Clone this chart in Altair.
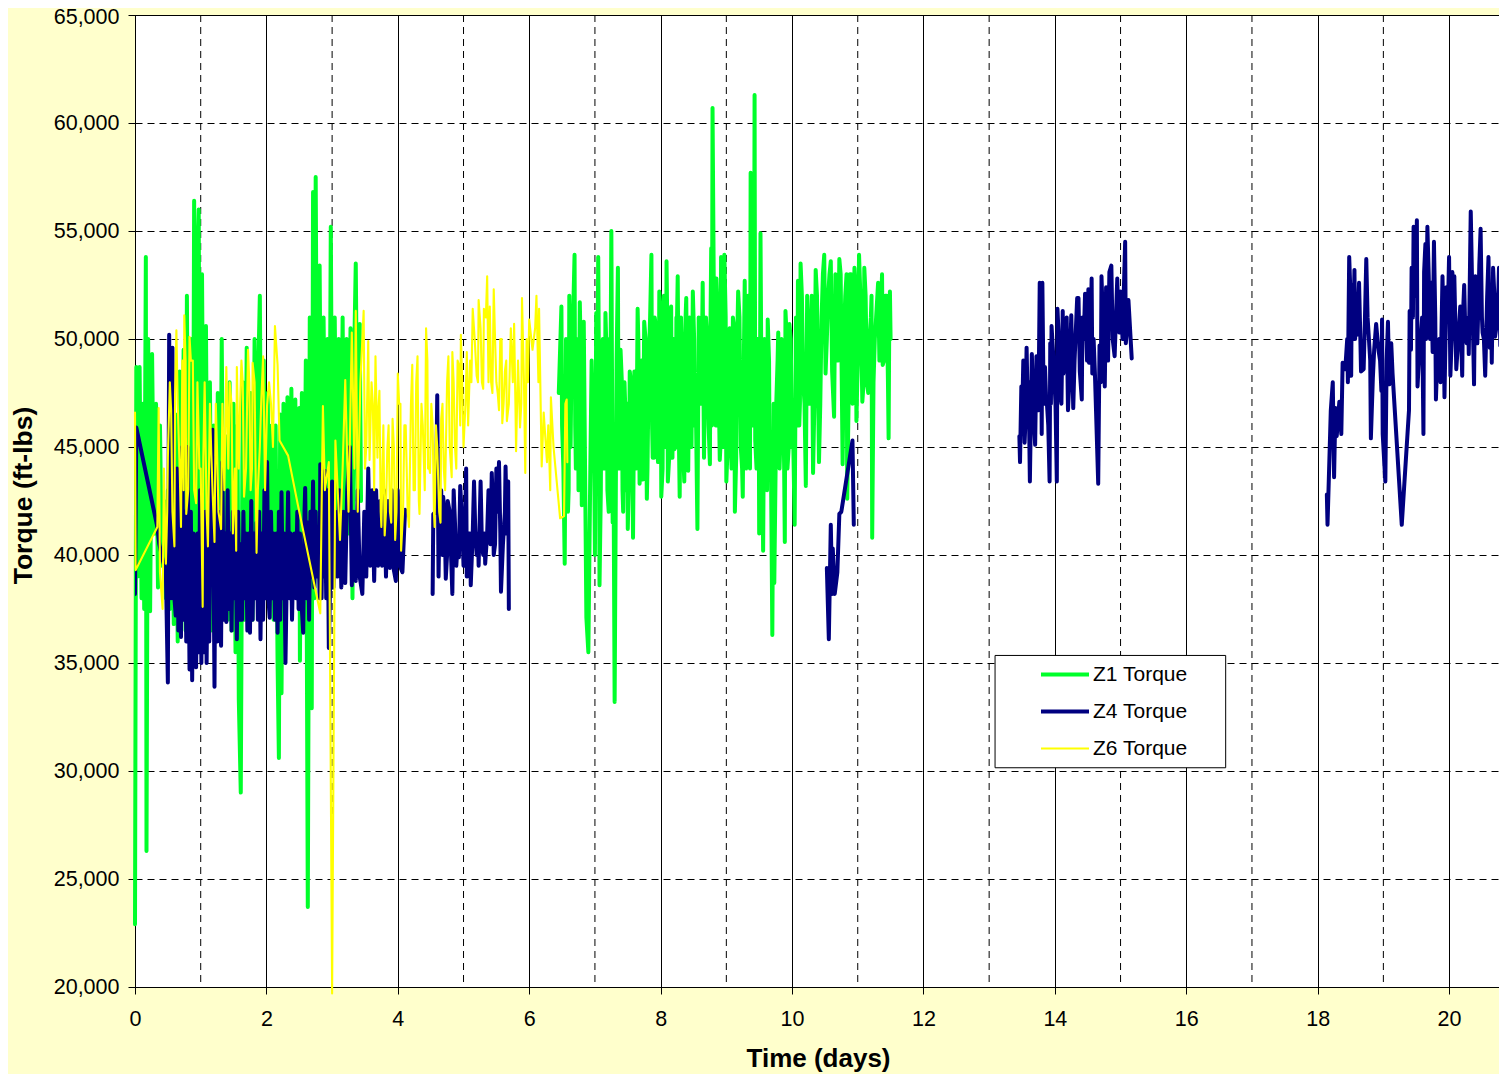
import altair as alt
import pandas as pd

Z1 = "Z1 Torque"
Z4 = "Z4 Torque"
Z6 = "Z6 Torque"

even_days = [0, 2, 4, 6, 8, 10, 12, 14, 16, 18, 20]
odd_days = [1, 3, 5, 7, 9, 11, 13, 15, 17, 19]
torque_ticks = [20000, 25000, 30000, 35000, 40000, 45000, 50000, 55000, 60000, 65000]

z1a_days = [
    0, .02, .04, .07, .1, .12, .14, .165, .175, .2,
    .23, .26, .29, .32, .35, .38, .41, .44, .47, .5,
    .53, .56, .59, .62, .65, .68, .71, .74, .77, .79,
    .82, .85, .88, .9, .92, .95, .97, .99, 1.02, 1.05,
    1.08, 1.11, 1.14, 1.17, 1.2, 1.23, 1.26, 1.29, 1.32, 1.35,
    1.38, 1.41, 1.44, 1.47, 1.5, 1.53, 1.56, 1.58, 1.61, 1.64,
    1.67, 1.7, 1.73, 1.76, 1.79, 1.82, 1.85, 1.88, 1.9, 1.93,
    1.96, 1.99, 2.02, 2.05, 2.08, 2.11, 2.14, 2.17, 2.19, 2.21,
    2.23, 2.26, 2.29, 2.32, 2.35, 2.38, 2.41, 2.44, 2.47, 2.5,
    2.51, 2.54, 2.57, 2.6, 2.63, 2.66, 2.69, 2.71, 2.73, 2.75,
    2.78, 2.81, 2.84, 2.87, 2.9, 2.93, 2.96, 2.98, 3.01, 3.04,
    3.07, 3.1, 3.13, 3.16, 3.19, 3.22, 3.25, 3.28, 3.31, 3.34,
    3.36, 3.39, 3.42, 3.44,
]
z1a_torque = [
    22.9, 48.7, 39, 48.7, 38, 47, 37.5, 53.8, 26.3, 50,
    37.4, 49.3, 41, 47, 38.5, 46, 39.5, 42.5, 38, 43,
    37.5, 44, 36.8, 46.5, 36, 48.5, 37.5, 49.5, 36.5, 52,
    36, 50, 38, 56.4, 38, 54, 56, 38, 53, 39,
    50.6, 37, 48, 36.5, 46, 37.5, 47.5, 37, 50, 38,
    45.5, 37, 48, 36.5, 47, 35.5, 46, 33.3, 29, 48,
    37, 49.6, 38, 47.5, 37, 50, 38, 49, 52, 38,
    49, 39, 47.5, 38, 46, 37, 46, 35, 30.6, 46.5,
    33.6, 47, 37, 47.3, 39, 47.7, 39, 47.2, 38, 46.8,
    35.1, 47.5, 38, 49, 23.7, 51, 32.9, 56.8, 38, 57.5,
    40, 53.4, 40, 51, 42, 50, 43, 55.2, 38.5, 51,
    42, 50, 41, 51, 39, 50, 41, 50.5, 38, 50,
    53.5, 42.5, 50.7, 42.5,
]

z1b_days = [
    6.45, 6.49, 6.52, 6.54, 6.57, 6.59, 6.61, 6.63, 6.66, 6.69,
    6.71, 6.74, 6.77, 6.8, 6.83, 6.85, 6.87, 6.9, 6.93, 6.97,
    7.0, 7.02, 7.05, 7.07, 7.1, 7.13, 7.16, 7.19, 7.22, 7.25,
    7.27, 7.3, 7.33, 7.35, 7.38, 7.41, 7.43, 7.46, 7.48, 7.5,
    7.53, 7.56, 7.58, 7.61, 7.65, 7.68, 7.71, 7.75, 7.79, 7.82,
    7.86, 7.88, 7.91, 7.94, 7.96, 7.98, 8.01, 8.04, 8.06, 8.09,
    8.11, 8.14, 8.17, 8.19, 8.21, 8.24, 8.26, 8.29, 8.32, 8.36,
    8.39, 8.42, 8.45, 8.49, 8.52, 8.56, 8.59, 8.64, 8.67, 8.71,
    8.75, 8.77, 8.79, 8.82, 8.85, 8.9, 8.92, 8.95, 8.97, 9.0,
    9.03, 9.06, 9.1, 9.13, 9.16, 9.18, 9.22, 9.25, 9.28, 9.31,
    9.34, 9.37, 9.4, 9.43, 9.44, 9.47, 9.5, 9.52, 9.54, 9.56,
    9.6, 9.63, 9.66, 9.7, 9.73, 9.76, 9.79, 9.82, 9.86, 9.89,
    9.9, 9.93, 9.96, 10.0, 10.04, 10.07, 10.09, 10.11, 10.13, 10.17,
    10.21, 10.24, 10.28, 10.32, 10.36, 10.41, 10.45, 10.49, 10.51, 10.55,
    10.59, 10.64, 10.68, 10.72, 10.77, 10.81, 10.84, 10.88, 10.92, 10.95,
    10.98, 11.02, 11.07, 11.1, 11.14, 11.18, 11.21, 11.22, 11.26, 11.31,
    11.34, 11.37, 11.38, 11.42, 11.45, 11.47, 11.49, 11.5,
]
z1b_torque = [
    47.5, 51.5, 44, 39.6, 48, 42, 52, 45, 50, 53.9,
    44, 50, 51.7, 42.3, 50.8, 44, 37.1, 35.5, 44, 46,
    40, 51.2, 53.8, 38.6, 49, 44, 51.2, 43, 50, 55,
    41.5, 33.2, 49, 53.3, 44, 48, 42, 47, 44, 41.2,
    48.5, 45, 40.8, 47, 51.4, 43.3, 49, 50.8, 42.6, 49,
    53.9, 44.5, 51, 46, 44.3, 52.2, 42.7, 50, 47, 53.6,
    43.4, 51, 46, 50, 44.9, 51, 52.9, 42.7, 50, 43.4,
    51.9, 43.9, 50, 52.2, 46, 41.2, 50, 52.6, 47, 50,
    44.2, 54.2, 60.7, 48, 52.8, 44.4, 53.8, 47, 53.9, 43.4,
    50, 46, 51, 42, 49, 52.2, 45, 42.7, 52.7, 46,
    51, 57.7, 46, 61.3, 45.3, 50, 41, 54.9, 47, 40.2,
    48, 50.9, 44, 36.3, 38.7, 47, 50.3, 45, 49, 40.6,
    51.3, 44, 50.7, 45, 41.4, 49, 52.7, 46, 53.5, 48,
    43.2, 51, 47, 43.8, 53.2, 44.3, 51, 53.9, 48.4, 52,
    53.6, 46.4, 52, 53.7, 44.2, 52, 42.6, 53, 47, 53.3,
    46.2, 53.9, 47.1, 53.3, 48, 50, 52, 40.8, 50, 52.6,
    49, 53, 48.8, 52, 50, 45.4, 52.2, 50,
]
z1b_band_days = [
    6.5, 6.56, 6.6, 6.65, 6.7, 6.75, 6.78, 6.82, 6.95, 6.99,
    7.03, 7.06, 7.09, 7.12, 7.15, 7.18, 7.21, 7.24, 7.28, 7.32,
    7.36, 7.39, 7.42, 7.45, 7.47, 7.49, 7.52, 7.55, 7.57, 7.6,
    7.63, 7.66, 7.7, 7.73, 7.77, 7.8, 7.84, 7.87, 7.9, 7.93,
    7.97, 8.0, 8.03, 8.05, 8.08, 8.1, 8.13, 8.16, 8.18, 8.2,
    8.23, 8.25, 8.28, 8.31, 8.34, 8.38, 8.41, 8.44, 8.47, 8.51,
    8.54, 8.58, 8.62, 8.66, 8.69, 8.73, 8.76, 8.78, 8.81, 8.84,
    8.87, 8.91, 8.94, 8.96, 8.99, 9.02, 9.05, 9.08, 9.12, 9.15,
    9.2, 9.24, 9.27, 9.3, 9.33, 9.36, 9.39, 9.42, 9.46, 9.49,
    9.51, 9.53, 9.55, 9.58, 9.62, 9.65, 9.68, 9.72, 9.75, 9.78,
    9.81, 9.84, 9.88, 9.92, 9.95, 9.98, 10.02, 10.06, 10.08, 10.1,
    10.12, 10.15, 10.19, 10.23, 10.26, 10.3, 10.34, 10.38, 10.43, 10.47,
    10.53, 10.57, 10.61, 10.66, 10.7, 10.74, 10.79, 10.83, 10.86, 10.9,
    10.94, 10.97, 11.0, 11.04, 11.09, 11.12, 11.16, 11.2, 11.24, 11.28,
    11.33, 11.36, 11.4, 11.44, 11.46, 11.48,
]
z1b_band_torque = [
    46, 50, 43, 51, 46, 43, 50, 45, 49, 44,
    44, 49, 43, 50, 44, 49, 42, 50, 46, 44,
    44, 49.5, 43, 48, 43, 47, 44, 48, 44, 48.5,
    44, 50, 45, 43.5, 50, 44, 51, 46, 44.5, 50.5,
    46, 51, 44, 52, 45, 51, 44.5, 51.5, 44.5, 50,
    45, 51, 45, 51, 45, 51, 45, 51, 45, 50,
    46, 51, 47, 44.5, 51, 46, 51, 46, 52, 46,
    51, 45, 52, 45, 51, 45, 50.5, 44, 50.5, 44.5,
    51, 44, 50, 44, 52, 44, 52, 47, 44, 50,
    45, 50, 44, 50, 43, 49, 44, 47, 44, 49,
    44, 50, 44, 50, 45, 50, 45, 51, 46, 51,
    47, 52, 47, 52, 47, 52, 47, 52, 47, 53,
    50, 53, 48.5, 53, 49, 53, 50, 53, 47, 53,
    49, 52, 49, 52, 48, 52, 47.5, 51, 48, 51,
    49, 52, 49, 52, 48, 51,
]

z4a_days = [
    0, .02, .34, .37, .42, .47, .5, .52, .55, .57,
    .6, .62, .64, .66, .68, .7, .72, .74, .76, .78,
    .8, .83, .85, .87, .89, .91, .93, .95, .97, .99,
    1.01, 1.03, 1.05, 1.07, 1.09, 1.11, 1.13, 1.15, 1.18, 1.21,
    1.23, 1.25, 1.27, 1.29, 1.31, 1.33, 1.35, 1.37, 1.39, 1.41,
    1.43, 1.45, 1.47, 1.49, 1.51, 1.53, 1.55, 1.57, 1.59, 1.61,
    1.63, 1.65, 1.67, 1.69, 1.71, 1.73, 1.75, 1.77, 1.79, 1.81,
    1.83, 1.85, 1.87, 1.89, 1.91, 1.93, 1.95, 1.97, 1.99, 2.01,
    2.03, 2.05, 2.07, 2.09, 2.11, 2.13, 2.15, 2.17, 2.19, 2.21,
    2.23, 2.25, 2.27, 2.29, 2.33, 2.35, 2.37, 2.39, 2.41, 2.42,
    2.43, 2.45, 2.47, 2.49, 2.51, 2.53, 2.56, 2.58, 2.59, 2.61,
    2.63, 2.65, 2.67, 2.69, 2.71, 2.73, 2.75, 2.77, 2.79, 2.81,
    2.82, 2.84, 2.86, 2.88, 2.89, 2.91, 2.93, 2.95, 3, 3.02,
    3.05, 3.08, 3.11, 3.14, 3.17, 3.2, 3.23, 3.27, 3.3, 3.33,
    3.36, 3.39, 3.42, 3.46, 3.49, 3.52, 3.55, 3.58, 3.61, 3.64,
    3.67, 3.7, 3.73, 3.76, 3.79, 3.82, 3.85, 3.88, 3.91, 3.94,
    3.97, 4, 4.03, 4.07, 4.11,
]
z4a_torque = [
    38.2, 45.9, 41.3, 40.5, 39.8, 39.2, 34.1, 50.2, 38, 49.6,
    38, 37.2, 44, 36.5, 43, 36.2, 45, 37, 42, 36,
    45, 34.7, 42, 34.2, 41, 36, 34.8, 41, 35.5, 43,
    35, 41, 35.5, 42, 35, 41, 36, 43, 45.8, 33.9,
    44.5, 36, 42, 37, 35.8, 44.3, 37, 41, 36.9, 43,
    37.5, 41, 36.5, 42, 38, 41, 36.1, 42, 37, 40.5,
    37, 42, 38, 41, 36.5, 41, 36.4, 42.5, 37, 41,
    38, 41.5, 37, 42, 36.1, 41, 37, 43, 38, 44.3,
    38, 37.1, 42, 38, 41, 37, 41, 36.4, 42, 37,
    42.9, 38, 41, 35, 42.9, 38, 41, 37, 40, 38.5,
    41, 38, 42, 37.5, 41, 38, 36.4, 42, 43.1, 38,
    41.5, 37, 42, 39, 43.4, 38.5, 42, 39, 41, 38,
    44.2, 38, 43, 39, 43.9, 38, 43, 35.7, 43.4, 38.5,
    42, 39, 43, 38.5, 42, 38.7, 43, 45, 38.6, 42,
    38.8, 43, 39, 38.2, 42, 39, 44, 39.5, 43, 38.8,
    43, 39.5, 42.5, 39.5, 43, 39, 42.5, 39.4, 43, 39.3,
    38.8, 43, 39.5, 39.2, 42.1,
]

z4b_days = [
    4.53, 4.54, 4.6, 4.62, 4.66, 4.69, 4.73, 4.76, 4.83, 4.85,
    4.89, 4.93, 4.95, 5.0, 5.04, 5.05, 5.08, 5.11, 5.16, 5.2,
    5.23, 5.26, 5.3, 5.33, 5.38, 5.43, 5.46, 5.5, 5.54, 5.57,
    5.61, 5.64, 5.68, 5.69,
]
z4b_torque = [
    38.2, 41.9, 47.4, 39, 43, 42.7, 38.9, 42.5, 38.2, 43,
    39.5, 39.9, 43.2, 39.5, 44, 39, 41, 38.6, 43.4, 40,
    39.5, 43.4, 40, 39.6, 43, 43.8, 40, 44, 44.3, 38.3,
    41, 44.1, 43.4, 37.5,
]
z4b_band_days = [
    4.58, 4.64, 4.68, 4.71, 4.75, 4.79, 4.81, 4.87, 4.91, 4.98,
    5.02, 5.07, 5.1, 5.14, 5.18, 5.22, 5.28, 5.32, 5.36, 5.41,
    5.45, 5.48, 5.52, 5.56, 5.6, 5.63, 5.66,
]
z4b_band_torque = [
    42, 43, 40, 42, 40, 42, 40, 41.5, 40.5, 41.5,
    41, 40.5, 41, 41, 41, 41, 40.5, 41, 41, 40.5,
    42, 40.5, 42, 41, 40.5, 42, 41,
]

z4c_days = [10.53, 10.56, 10.59, 10.61, 10.62, 10.65, 10.69, 10.72, 10.75, 10.92, 10.94]
z4c_torque = [39.4, 36.1, 41.4, 38.2, 40.3, 38.2, 39.2, 41.9, 42, 45.3, 41.4]

z4d_days = [
    13.46, 13.47, 13.49, 13.52, 13.54, 13.57, 13.59, 13.62, 13.65, 13.7,
    13.72, 13.75, 13.77, 13.8, 13.81, 13.85, 13.88, 13.92, 13.93, 13.95,
    14.03, 14.04, 14.08, 14.12, 14.13, 14.18, 14.2, 14.25, 14.28, 14.34,
    14.36, 14.41, 14.42, 14.46, 14.51, 14.52, 14.56, 14.57, 14.61, 14.66,
    14.68, 14.71, 14.76, 14.78, 14.81, 14.83, 14.86, 14.91, 14.95, 14.98,
    15, 15.07, 15.08, 15.12, 15.17,
]
z4d_torque = [
    45.5, 44.3, 47.8, 49, 45.2, 49.6, 46.5, 43.4, 49.3, 45.1,
    49.2, 46.7, 52.6, 45.6, 52.6, 48.7, 47, 43.4, 49.8, 50.6,
    43.4, 51.4, 47.5, 51.3, 48.4, 51, 46.7, 51.1, 46.8, 51.9,
    51.9, 47.2, 51, 52.1, 52.3, 48.9, 52.8, 48.4, 48.4, 43.3,
    49.7, 52.9, 47.8, 52.4, 49, 53.1, 53.4, 49.2, 52.8, 50.3,
    52.2, 54.5, 49.8, 51.8, 49.1,
]
z4d_band_days = [
    13.5, 13.55, 13.6, 13.67, 13.74, 13.79, 13.83, 13.87, 13.9, 13.94,
    13.98, 14.01, 14.06, 14.1, 14.15, 14.22, 14.3, 14.38, 14.44, 14.49,
    14.54, 14.59, 14.7, 14.74, 14.8, 14.88, 14.93, 14.97, 15.03, 15.1,
]
z4d_band_torque = [
    46, 46, 48, 47, 47, 51, 47, 47, 46, 47,
    49, 47, 50, 47, 49.5, 48, 49, 48.5, 50, 49,
    50, 50, 48, 50, 51, 50, 51, 50.5, 50, 50.5,
]

z4e_days = [
    18.14, 18.15, 18.2, 18.23, 18.25, 18.27, 18.29, 18.33, 18.36, 18.38,
    18.42, 18.46, 18.48, 18.51, 18.52, 18.56, 18.57, 18.6, 18.63, 18.66,
    18.7, 18.74, 18.76, 18.78, 18.81, 18.84, 18.89, 18.93, 18.97, 18.98,
    18.99, 19.03, 19.07, 19.09, 19.12, 19.14, 19.28, 19.39, 19.4, 19.42,
    19.43, 19.46, 19.51, 19.52, 19.56, 19.61, 19.62, 19.64, 19.67, 19.7,
    19.73, 19.75, 19.77, 19.8, 19.83, 19.87, 19.9, 19.93, 19.96, 20,
    20.02, 20.05, 20.08, 20.11, 20.17, 20.2, 20.23, 20.27, 20.3, 20.33,
    20.38, 20.4, 20.43, 20.46, 20.48, 20.51, 20.55, 20.6, 20.62, 20.65,
    20.67, 20.7, 20.76, 20.78, 20.82, 20.85, 20.88,
]
z4e_torque = [
    42.8, 41.4, 46.7, 48, 43.6, 46.8, 45.5, 47.1, 45.6, 48.9,
    48.6, 48, 53.8, 48.3, 52.5, 53.2, 50, 50.2, 52.6, 48.5,
    48.6, 53.7, 51, 50, 45.4, 48.2, 50.7, 49.4, 47.6, 50.9,
    45.6, 43.4, 50.8, 47.9, 49.8, 48.4, 41.4, 46.7, 51.3, 49.5,
    53.3, 55.2, 55.5, 47.8, 49.7, 45.6, 53.1, 54.4, 55.2, 51.5,
    52.6, 49.4, 54.5, 47.2, 49.9, 48, 52.9, 47.3, 52.4, 53.8,
    48.3, 53.1, 52.9, 48.6, 51.5, 48.3, 52.5, 49.8, 49.3, 55.9,
    47.9, 52.9, 49.8, 53.4, 55.1, 50.3, 48.3, 53.8, 49.6, 48.9,
    53.3, 50.1, 53.3, 49.7, 53.8, 54.4, 48.1,
]
z4e_band_days = [
    18.45, 18.5, 18.54, 18.59, 18.65, 18.72, 18.8, 18.86, 18.91, 18.95,
    19.05, 19.11, 19.45, 19.49, 19.54, 19.59, 19.65, 19.69, 19.71, 19.79,
    19.85, 19.92, 19.98, 20.04, 20.07, 20.1, 20.14, 20.21, 20.25, 20.29,
    20.36, 20.39, 20.45, 20.5, 20.53, 20.58, 20.64, 20.69, 20.74, 20.8,
]
z4e_band_torque = [
    50, 52, 50, 52, 50, 51, 49, 49.5, 50, 49,
    49, 49, 51, 52, 49, 51, 50, 53, 50, 51,
    50, 50, 51, 50, 52, 50, 50, 51, 50, 51,
    51, 51, 52, 51, 50, 52, 51, 52, 51, 52,
]

z6_days = [
    0, .01, .34, .36, .38, .42, .47, .5, .55, .6,
    .61, .63, .7, .75, .78, .83, .88, .93, .98, 1.03,
    1.04, 1.11, 1.16, 1.21, 1.25, 1.31, 1.39, 1.44, 1.49, 1.54,
    1.55, 1.62, 1.66, 1.72, 1.76, 1.79, 1.85, 1.9, 1.95, 2.01,
    2.07, 2.13, 2.17, 2.2, 2.33, 2.48, 2.82, 2.86, 2.89, 2.95,
    3.0, 3.05, 3.12, 3.16, 3.2, 3.25, 3.3, 3.34, 3.36, 3.39,
    3.43, 3.48, 3.52, 3.55, 3.57, 3.62, 3.66, 3.69, 3.72, 3.75,
    3.8, 3.84, 3.88, 3.92, 3.96, 4.0, 4.02, 4.05, 4.12, 4.17,
    4.22, 4.26, 4.3, 4.33, 4.38, 4.43, 4.46, 4.49, 4.53, 4.56,
    4.6, 4.65, 4.66, 4.72, 4.77, 4.82, 4.83, 4.89, 4.93, 4.96,
    5.0, 5.05, 5.07, 5.14, 5.2, 5.23, 5.3, 5.31, 5.36, 5.44,
    5.46, 5.5, 5.54, 5.56, 5.59, 5.63, 5.66, 5.72, 5.77, 5.8,
    5.86, 5.89, 5.94, 5.96, 6.0, 6.09, 6.11, 6.14, 6.15, 6.19,
    6.22, 6.27, 6.29, 6.32, 6.33, 6.37, 6.47, 6.53, 6.55, 6.57, 6.58,
]
z6_torque = [
    46.6, 39.3, 41.3, 46.8, 39.2, 37.5, 39.6, 44.5, 46.7, 40.4,
    47.5, 50.4, 41.3, 51.1, 41.9, 50.1, 49, 42.4, 44, 37.6,
    44.5, 40.4, 44.8, 40.6, 44.7, 41.2, 48.7, 48, 41, 40.2,
    48.7, 49, 42.7, 49.5, 43, 48.9, 40.1, 45, 49.2, 46.9,
    47, 50.6, 48.8, 45.3, 44.6, 42.3, 37.3, 46.9, 43, 44.3,
    19.7, 45.3, 40.7, 44, 48.1, 42, 50.3, 44, 51.3, 42,
    48, 51.3, 45, 49.9, 44.4, 47, 49.2, 44.5, 47.6, 41.3,
    40.9, 44.9, 42, 46.3, 40.7, 48.4, 47, 40.2, 46, 41.3,
    48.8, 43, 49.2, 41.9, 46, 50.5, 44, 43.8, 46, 41.3,
    45, 41.5, 46.3, 43, 49.2, 43.6, 49.4, 44, 48.8, 50.2,
    45, 49.4, 46, 51.4, 48.3, 51.8, 47.7, 51.4, 52.9, 47.5,
    52.3, 48, 46.7, 50, 46.1, 48.5, 46.2, 50.5, 50.7, 44.8,
    45.9, 51.9, 43.8, 50, 50.9, 50.5, 52, 48, 51.4, 44.1,
    46.6, 44.3, 46, 43, 47.3, 45, 41.7, 41.8, 47, 47.2, 44.3,
]
z6_band_days = [
    .44, .49, .53, .57, .65, .68, .72, .74, .77, .81,
    .85, .9, .95, 1.0, 1.06, 1.09, 1.14, 1.18, 1.23, 1.27,
    1.33, 1.36, 1.42, 1.47, 1.52, 1.58, 1.6, 1.64, 1.69, 1.74,
    1.78, 1.82, 1.87, 1.92, 1.98, 2.04, 2.1,
    3.5, 3.6, 3.64, 3.7, 3.74, 3.78, 3.82, 3.86, 3.9, 3.94,
    3.98, 4.04, 4.08, 4.1, 4.15, 4.2, 4.24, 4.28, 4.32, 4.36,
    4.41, 4.45, 4.48, 4.51, 4.55, 4.58, 4.63, 4.68, 4.7, 4.75,
    4.79, 4.85, 4.87, 4.91, 4.95, 4.98, 5.03, 5.1, 5.12, 5.17,
    5.22, 5.26, 5.28, 5.34, 5.38, 5.4, 5.42, 5.48, 5.52, 5.58,
    5.61, 5.65, 5.69, 5.75, 5.79, 5.83, 5.88, 5.92, 5.98, 6.05,
]
z6_band_torque = [
    44, 42, 48, 42, 47, 44, 49, 43, 49, 43,
    49, 43, 48, 44, 48, 42, 47, 43, 47, 42,
    47, 43, 44, 47, 44, 44, 47, 48, 44, 48,
    44, 48, 43, 47, 43, 48, 45,
    44, 48, 43, 46.5, 42, 46, 42, 46, 41.5, 45,
    42, 47, 42, 46, 42, 47, 43, 48, 42.5, 47,
    43, 49, 44, 47, 42, 46, 42, 47, 44, 48,
    45, 48, 45, 49, 46, 48, 47, 49, 48, 50,
    48, 50.5, 48, 51, 48, 51.5, 48, 50, 47.5, 50,
    47, 49, 47, 48, 47, 49, 47, 48, 48, 49.5,
]

segments = [
    (Z1, "z1a", z1a_days, z1a_torque),
    (Z1, "z1b", z1b_days + z1b_band_days, z1b_torque + z1b_band_torque),
    (Z4, "z4a", z4a_days, z4a_torque),
    (Z4, "z4b", z4b_days + z4b_band_days, z4b_torque + z4b_band_torque),
    (Z4, "z4c", z4c_days, z4c_torque),
    (Z4, "z4d", z4d_days + z4d_band_days, z4d_torque + z4d_band_torque),
    (Z4, "z4e", z4e_days + z4e_band_days, z4e_torque + z4e_band_torque),
    (Z6, "z6", z6_days + z6_band_days, z6_torque + z6_band_torque),
]
rows = []
for series, seg, days, torque in segments:
    for i, (d, v) in enumerate(sorted(zip(days, torque), key=lambda p: p[0])):
        rows.append({"series": series, "seg": seg, "idx": i, "day": d, "torque": v * 1000})
data = pd.DataFrame(rows)

FONT = "Liberation Sans"
x_scale = alt.Scale(domain=[0, 20.76], nice=False, zero=False)
y_scale = alt.Scale(domain=[20000, 65000], nice=False, zero=False)

x_enc = alt.X(
    "day:Q", scale=x_scale,
    axis=alt.Axis(
        title="Time (days)", values=even_days, format="d", grid=True, gridColor="#000000",
        gridWidth=1, gridOpacity=1, tickColor="#000000", tickSize=7, domainColor="#000000",
        labelFont=FONT, labelFontSize=21.5, labelColor="#000000", labelPadding=14,
        labelFlush=False, labelOverlap=False,
        titleFont=FONT, titleFontSize=26, titleFontWeight="bold", titleColor="#000000",
        titleX=683, titleY=79, titleBaseline="alphabetic",
    ),
)
y_enc = alt.Y(
    "torque:Q", scale=y_scale,
    axis=alt.Axis(
        title="Torque (ft-lbs)", values=torque_ticks, format=",d", grid=True, gridColor="#000000",
        gridDash=[7, 5], gridWidth=1, gridOpacity=1, tickColor="#000000", tickSize=7,
        domainColor="#000000", labelFont=FONT, labelFontSize=21.5, labelColor="#000000",
        labelPadding=9, labelOverlap=False,
        labelOffset=alt.expr("datum.value == 65000 ? 2 : 0"),
        titleFont=FONT, titleFontSize=26.5, titleFontWeight="bold", titleColor="#000000",
        titleX=-98, titleY=480,
    ),
)
legend_cfg = alt.Legend(
    title=None, orient="none", legendX=904, legendY=641, symbolType="stroke",
    symbolSize=2304, clipHeight=37, labelFont=FONT, labelFontSize=21,
    labelColor="#000000", labelOffset=2, rowPadding=0, padding=0, labelLimit=200,
)
color_enc = alt.Color(
    "series:N",
    scale=alt.Scale(domain=[Z1, Z4, Z6], range=["#00FF2A", "#000080", "#FFFF00"]),
    legend=legend_cfg,
)
width_enc = alt.StrokeWidth(
    "series:N",
    scale=alt.Scale(type="ordinal", domain=[Z1, Z4, Z6], range=[4, 4, 2.1]),
    legend=legend_cfg,
)

odd_rules = alt.Chart(pd.DataFrame({"day": odd_days})).mark_rule(
    color="#000000", strokeDash=[7, 5], strokeWidth=1
).encode(x=x_enc)

legend_box = alt.Chart(
    pd.DataFrame({"day": [13.09], "x2": [16.6], "torque": [35350], "y2": [30150]})
).mark_rect(fill="#FFFFFF", stroke="#000000", strokeWidth=1).encode(
    x=x_enc,
    x2="x2:Q",
    y=y_enc,
    y2="y2:Q",
)


def series_layer(name, clip):
    return alt.Chart(data).transform_filter(alt.datum.series == name).mark_line(
        strokeCap="round", strokeJoin="round", clip=clip
    ).encode(
        x=x_enc, y=y_enc, color=color_enc, strokeWidth=width_enc,
        detail="seg:N", order="idx:Q",
    )


chart = alt.layer(
    odd_rules, legend_box, series_layer(Z1, False), series_layer(Z4, True), series_layer(Z6, False)
).properties(
    width=1364, height=972, background="#FFFFCC",
    padding={"left": 127, "top": 7, "right": 0, "bottom": 87},
    autosize=alt.AutoSizeParams(type="none", contains="content"),
).configure_view(stroke="#000000", strokeWidth=1, fill="#FFFFFF")

chart.save("out.html", embed_options={"renderer": "svg", "actions": False})
